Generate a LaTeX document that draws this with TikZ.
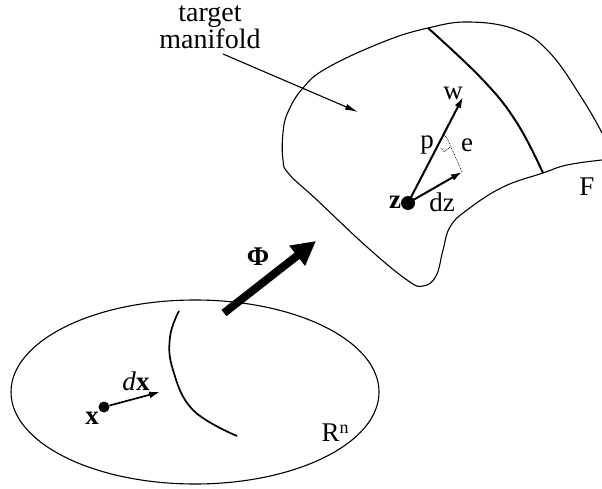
\documentclass[tikz,border=0pt]{standalone}
\usepackage{fontspec}
\setmainfont{Liberation Serif}
\usetikzlibrary{arrows.meta,shapes.geometric}
\tikzset{
  lbl/.style={inner sep=0pt,font=\fontsize{27}{27}\selectfont},
  bld/.style={inner sep=0pt,font=\fontsize{27}{27}\selectfont\bfseries},
  small/.style={inner sep=0pt,font=\fontsize{28}{24}\selectfont,align=center},
  thinline/.style={line width=1.1pt},
  thickcurve/.style={line width=2pt},
  vec/.style={line width=2pt,-{Latex[length=11pt,width=7pt]}},
  dot/.style={circle,fill=black,inner sep=0pt}
}
\begin{document}
\begin{tikzpicture}[x=1pt,y=-1pt]
\useasboundingbox (0,0) rectangle (602,489);
% manifold
\draw[thinline] plot[smooth,tension=0.7] coordinates {(602,133) (583,100) (550,53) (517,30) (470,22) (428,28) (383,42) (327,68) (303,88) (288,112) (283,133) (283,160) (289,174) (317,200) (367,247) (407,280) (423,286) (436,276) (443,250) (450,227) (467,210) (503,187) (543,173) (567,165) (602,160)};
\draw[thickcurve] plot[smooth,tension=0.7] coordinates {(428,28) (483,80) (517,123) (543,173)};
% ellipse
\node[draw,ellipse,thinline,minimum width=368pt,minimum height=184pt,inner sep=0pt] (rn) at (195,392) {};
\draw[line width=1.7pt] plot[smooth,tension=0.7] coordinates {(179,311) (170,337) (173,370) (193,410) (237,436)};
% Phi arrow
\coordinate (phia) at (224,313);
\coordinate (phib) at (316,241);
\draw[line width=8pt,-{Triangle[length=24pt,width=24pt]}] (phia) -- (phib);
\node[bld] (phi) at (258,257) {Φ};
% x
\node[dot,minimum size=11pt] (x) at (104,407) {};
\coordinate (dxtip) at (160,392);
\draw[line width=1.7pt,-{Latex[length=11pt,width=7pt]}] (x) -- (dxtip);
\node[bld] (xl) at (92,418) {x};
\node[lbl] (dxl) at (136,381) {\textit{d}\textbf{x}};
\node[lbl] (rnl) at (335,433) {R\raisebox{8pt}{\fontsize{18}{18}\selectfont n}};
% z
\node[dot,minimum size=14pt] (z) at (408,203) {};
\coordinate (wtip) at (463,97);
\coordinate (dztip) at (462,172);
\draw[vec] (z.center) -- (wtip);
\draw[vec] (z.center) -- (dztip);
\coordinate (foot) at (447,138);
\draw[densely dotted,line width=0.7pt] (dztip) -- (foot) -- (443,134);
\draw[densely dotted,line width=0.7pt] (441,148) -- (444,152) -- (450,147);
\node[bld] (zl) at (395,202) {z};
\node[lbl] (dzl) at (442,202) {dz};
\node[lbl] (wl) at (453,93) {w};
\node[lbl] (pl) at (427,145) {p};
\node[lbl] (el) at (467,145) {e};
\node[lbl] (fl) at (587,187) {F};
% target manifold
\node[small] (tm) at (210,27) {target\\manifold};
\coordinate (tmstart) at (223,54);
\coordinate (tmtip) at (358,112);
\draw[line width=1.1pt,-{Latex[length=13pt,width=6pt]}] (tmstart) -- (tmtip);
\end{tikzpicture}
\end{document}
